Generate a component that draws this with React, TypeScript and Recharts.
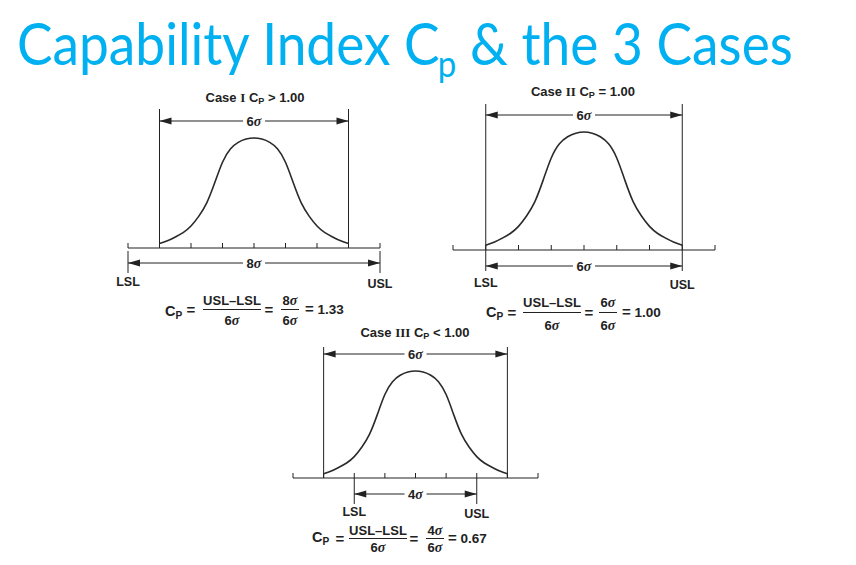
import { LineChart, Line, XAxis, YAxis, ReferenceLine } from "recharts";

// bell curve, in sigma units (height 1 = peak)
const CURVE_SIGMA = [-3, -2.75, -2.5, -2.25, -2, -1.75, -1.5, -1.25, -1, -0.75, -0.5, -0.25, 0, 0.25, 0.5, 0.75, 1, 1.25, 1.5, 1.75, 2, 2.25, 2.5, 2.75, 3];
const CURVE_HEIGHT = [0.04, 0.065, 0.1, 0.14, 0.2, 0.29, 0.41, 0.59, 0.78, 0.9, 0.96, 0.99, 1.0, 0.99, 0.96, 0.9, 0.78, 0.59, 0.41, 0.29, 0.2, 0.14, 0.1, 0.065, 0.04];
const AXIS_TICKS = [-4, -3, -2, -1, 0, 1, 2, 3, 4];
const PROCESS_HALF = 3; // natural tolerance +-3 sigma = 6 sigma

const CASE_NAMES = ["I", "II", "III"];
const CASE_RELATIONS = [">", "=", "<"];
const SPEC_HALF = [4, 3, 2];
const SPEC_SPREAD = [8, 6, 4];
const CP_RESULTS = ["1.33", "1.00", "0.67"];

const INK = "#222";
const SANS = "'Liberation Sans', Arial, sans-serif";
const SERIF = "'Liberation Serif', 'Times New Roman', serif";

// pixel placement of each case on the slide
const LAYOUT = [
  { x0: 128, x1: 380, axisY: 248, peakY: 138, top: 100, bottom: 300, vTop: 109, vBottom: 247, topArrow: 121, lowArrow: 263, markTop: 251, markBottom: 273, labelGap: 4, titleX: 255, titleY: 98 },
  { x0: 453, x1: 715, axisY: 250, peakY: 132, top: 98, bottom: 300, vTop: 104, vBottom: 250, topArrow: 115, lowArrow: 266, markTop: 250, markBottom: 271, labelGap: 7, titleX: 583, titleY: 92 },
  { x0: 293, x1: 538, axisY: 478, peakY: 371, top: 340, bottom: 525, vTop: 347, vBottom: 478, topArrow: 354, lowArrow: 494, markTop: 478, markBottom: 504, labelGap: 3, titleX: 415, titleY: 333 },
];

const FORMULA = [
  { cp: 165, cpY: 311, eq1: 191, frac: 232, eq2: 269, ratio: 290, res: 305, y: 309, numY: 300, denY: 320 },
  { cp: 486, cpY: 312, eq1: 512, frac: 552, eq2: 589, ratio: 608, res: 622, y: 312, numY: 302, denY: 325 },
  { cp: 312, cpY: 537, eq1: 340, frac: 378, eq2: 414, ratio: 435, res: 448, y: 538, numY: 530, denY: 547 },
];

const data = CURVE_SIGMA.map((s, i) => ({ s, h: CURVE_HEIGHT[i] }));

function Sig({ n }: { n: number }) {
  return (
    <>
      {n}
      <span style={{ fontFamily: SERIF, fontStyle: "italic", fontWeight: 700, fontSize: "1.08em" }}>σ</span>
    </>
  );
}

function CpSym() {
  return (
    <>
      C
      <span style={{ fontSize: "0.7em", position: "relative", top: "0.25em" }}>P</span>
    </>
  );
}

function Txt({ x, y, children, anchor = "middle", size = 13 }: any) {
  const tx = anchor === "middle" ? "-50%" : anchor === "end" ? "-100%" : "0";
  return (
    <div
      style={{
        position: "absolute",
        left: x,
        top: y,
        transform: `translate(${tx}, -50%)`,
        fontFamily: SANS,
        fontWeight: 700,
        fontSize: size,
        color: INK,
        whiteSpace: "nowrap",
        lineHeight: 1,
      }}
    >
      {children}
    </div>
  );
}

function arrowShape(n: number) {
  return (p: any) => {
    const left = Math.min(p.x1, p.x2);
    const right = Math.max(p.x1, p.x2);
    const my = (p.y1 + p.y2) / 2;
    const mx = (left + right) / 2;
    return (
      <g>
        <line x1={left} y1={my} x2={right} y2={my} stroke={INK} strokeWidth={1} />
        <polygon points={`${left},${my} ${left + 12},${my - 3.5} ${left + 12},${my + 3.5}`} fill={INK} />
        <polygon points={`${right},${my} ${right - 12},${my - 3.5} ${right - 12},${my + 3.5}`} fill={INK} />
        <rect x={mx - 11} y={my - 7} width={22} height={14} fill="#fff" />
        <text x={mx} y={my} dy="0.36em" textAnchor="middle" fontFamily={SANS} fontWeight={700} fontSize={13} fill={INK}>
          {n}
          <tspan fontFamily={SERIF} fontStyle="italic" fontSize={14}>σ</tspan>
        </text>
      </g>
    );
  };
}

function CaseChart({ idx }: { idx: number }) {
  const L = LAYOUT[idx];
  const unit = L.axisY - L.peakY;
  const toY = (px: number) => (L.axisY - px) / unit;
  const spec = SPEC_HALF[idx];
  const labelStyle = { fill: INK, fontSize: 12.5, fontWeight: 700, fontFamily: SANS };

  return (
    <div style={{ position: "absolute", left: L.x0 - 20, top: L.top }}>
      <LineChart
        width={L.x1 - L.x0 + 40}
        height={L.bottom - L.top}
        data={data}
        margin={{ top: 0, right: 20, bottom: 0, left: 20 }}
      >
        <XAxis dataKey="s" type="number" domain={[-4, 4]} allowDataOverflow hide />
        <YAxis type="number" domain={[toY(L.bottom), toY(L.top)]} allowDataOverflow hide />
        <ReferenceLine segment={[{ x: -4, y: 0 }, { x: 4, y: 0 }]} stroke={INK} strokeWidth={1.2} />
        {AXIS_TICKS.map((t) => (
          <ReferenceLine key={t} segment={[{ x: t, y: 0 }, { x: t, y: toY(L.axisY - 5) }]} stroke={INK} strokeWidth={1} />
        ))}
        {[-PROCESS_HALF, PROCESS_HALF].map((x) => (
          <ReferenceLine key={"p" + x} segment={[{ x, y: toY(L.vBottom) }, { x, y: toY(L.vTop) }]} stroke={INK} strokeWidth={1} />
        ))}
        <ReferenceLine
          segment={[{ x: -spec, y: toY(L.markTop) }, { x: -spec, y: toY(L.markBottom) }]}
          stroke={INK}
          strokeWidth={1}
          label={{ value: "LSL", position: "bottom", offset: L.labelGap, ...labelStyle }}
        />
        <ReferenceLine
          segment={[{ x: spec, y: toY(L.markTop) }, { x: spec, y: toY(L.markBottom) }]}
          stroke={INK}
          strokeWidth={1}
          label={{ value: "USL", position: "bottom", offset: L.labelGap + 2, ...labelStyle }}
        />
        <ReferenceLine
          segment={[{ x: -PROCESS_HALF, y: toY(L.topArrow) }, { x: PROCESS_HALF, y: toY(L.topArrow) }]}
          shape={arrowShape(PROCESS_HALF * 2)}
        />
        <ReferenceLine
          segment={[{ x: -spec, y: toY(L.lowArrow) }, { x: spec, y: toY(L.lowArrow) }]}
          shape={arrowShape(SPEC_SPREAD[idx])}
        />
        <Line type="natural" dataKey="h" stroke="#2a2a2a" strokeWidth={1.6} dot={false} isAnimationActive={false} />
      </LineChart>
    </div>
  );
}

function CaseTitle({ idx }: { idx: number }) {
  const L = LAYOUT[idx];
  return (
    <Txt x={L.titleX} y={L.titleY} size={13}>
      Case <span style={{ fontFamily: SERIF }}>{CASE_NAMES[idx]}</span> <CpSym /> {CASE_RELATIONS[idx]} 1.00
    </Txt>
  );
}

function Formula({ idx }: { idx: number }) {
  const f = FORMULA[idx];
  return (
    <>
      <Txt x={f.cp} y={f.cpY} anchor="start" size={14.5}>
        <CpSym />
      </Txt>
      <Txt x={f.eq1} y={f.y} size={15}>=</Txt>
      <Txt x={f.frac} y={f.numY} size={13}>USL–LSL</Txt>
      <div style={{ position: "absolute", left: f.frac - 29, top: f.y, width: 58, borderTop: `1.2px solid ${INK}` }} />
      <Txt x={f.frac} y={f.denY} size={13}>
        <Sig n={6} />
      </Txt>
      <Txt x={f.eq2} y={f.y} size={15}>=</Txt>
      <Txt x={f.ratio} y={f.numY} size={13}>
        <Sig n={SPEC_SPREAD[idx]} />
      </Txt>
      <div style={{ position: "absolute", left: f.ratio - 9, top: f.y, width: 18, borderTop: `1.2px solid ${INK}` }} />
      <Txt x={f.ratio} y={f.denY} size={13}>
        <Sig n={6} />
      </Txt>
      <Txt x={f.res} y={f.y} anchor="start" size={13.5}>
        <span style={{ fontSize: 15 }}>=</span> {CP_RESULTS[idx]}
      </Txt>
    </>
  );
}

export default function App() {
  return (
    <div style={{ position: "absolute", left: 0, top: 0, width: 856, height: 565, background: "#fff", overflow: "hidden" }}>
      <div
        style={{
          position: "absolute",
          left: 17,
          top: 8,
          fontFamily: "Lato, 'Open Sans', sans-serif",
          fontSize: 58,
          color: "#00B0F0",
          whiteSpace: "nowrap",
          lineHeight: 1.2,
          transform: "scaleX(0.918)",
          transformOrigin: "left top",
        }}
      >
        Capability Index C
        <span style={{ fontSize: "0.62em", position: "relative", top: "0.33em", marginLeft: -2 }}>p</span> &amp; the 3 Cases
      </div>
      {[0, 1, 2].map((i) => (
        <CaseChart key={i} idx={i} />
      ))}
      {[0, 1, 2].map((i) => (
        <CaseTitle key={"t" + i} idx={i} />
      ))}
      {[0, 1, 2].map((i) => (
        <Formula key={"f" + i} idx={i} />
      ))}
    </div>
  );
}
